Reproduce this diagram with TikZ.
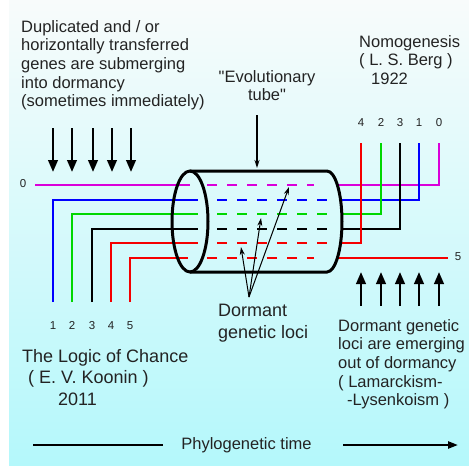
\documentclass[tikz,border=0pt]{standalone}
\usepackage{fontspec}
\setmainfont{Liberation Sans}[Ligatures=TeXOff]
\usetikzlibrary{arrows.meta,positioning}
\definecolor{ink}{RGB}{35,35,35}
\definecolor{gmag}{RGB}{218,0,218}
\definecolor{gblue}{RGB}{0,0,255}
\definecolor{ggreen}{RGB}{0,215,0}
\definecolor{gred}{RGB}{245,0,0}
\definecolor{bgtop}{RGB}{248,251,251}
\definecolor{bgbot}{RGB}{180,248,251}
\newcommand{\txtsize}{\fontsize{16.5}{18.7}\selectfont}
\newcommand{\bigsize}{\fontsize{18}{21.5}\selectfont}
\newcommand{\numsize}{\fontsize{11.5}{13}\selectfont}

\begin{document}
\begin{tikzpicture}[x=1pt,y=1pt,
txt/.style={font=\txtsize,text=ink,align=left,inner sep=0pt,anchor=north west},
big/.style={font=\bigsize,text=ink,align=left,inner sep=0pt,anchor=north west},
num/.style={font=\numsize,text=ink,inner sep=0pt},
gene/.style={line width=2.8pt},
dorm/.style={line width=2.8pt,dash pattern=on 10pt off 10pt},
tubeline/.style={line width=3pt},
fall/.style={line width=2.4pt,-{Triangle[length=12pt,width=9.5pt]}},
pointer/.style={line width=1pt,-{Stealth[length=8pt,width=5pt]}},
timeline/.style={line width=2.2pt}]
\fill[white] (0,0) rectangle (469,-466);
\shade[top color=bgtop,bottom color=bgbot] (9,0) rectangle (469,-466);
\useasboundingbox (0,0) rectangle (469,-466);

\node[txt] (sub) at (21,-20) {Duplicated and / or\\horizontally transferred\\genes are submerging\\into dormancy\\(sometimes immediately)};
\node[txt,align=center,anchor=north] (evo) at (267,-70) {"Evolutionary\\tube"};
\node[txt] (nomo) at (359,-35) {Nomogenesis\\( L. S. Berg )\\\hspace*{12pt}1922};
\node[big] (koonin) at (22,-349) {The Logic of Chance\\\hspace*{6pt}( E. V. Koonin )\\\hspace*{36pt}2011};
\node[big] (loci) at (218,-304) {Dormant\\genetic loci};
\node[txt] (emerge) at (338,-319) {Dormant genetic\\loci are emerging\\out of dormancy\\( Lamarckism-\\\hspace*{9pt}-Lysenkoism )};

\node[num] (l0) at (23,-184) {0};
\node[num] (b1) at (53,-325.5) {1};\node[num] (b2) at (72,-325.5) {2};\node[num] (b3) at (92,-325.5) {3};
\node[num] (b4) at (111,-325.5) {4};\node[num] (b5) at (130,-325.5) {5};
\node[num] (t4) at (361,-122.5) {4};\node[num] (t2) at (381,-122.5) {2};\node[num] (t3) at (400,-122.5) {3};
\node[num] (t1) at (419,-122.5) {1};\node[num] (t0) at (439,-122.5) {0};
\node[num] (r5) at (458,-257) {5};

\draw[gene,gmag] (35,-185) -- (190,-185);
\draw[gene,gblue] (53,-302) |- (198,-200);
\draw[gene,ggreen] (72,-302) |- (198,-214);
\draw[gene,black] (92,-302) |- (198,-229);
\draw[gene,gred] (111,-302) |- (198,-243);
\draw[gene,gred] (130,-302) |- (188,-258);

\draw[gene,gmag] (337,-185) -| (439,-143);
\draw[gene,gblue] (340.6,-200) -| (419,-143);
\draw[gene,ggreen] (341.8,-214) -| (381,-143);
\draw[gene,black] (341.8,-229) -| (400,-143);
\draw[gene,gred] (340.6,-243) -| (361,-143);
\draw[gene,gred] (337.4,-258) -- (448,-258);

\draw[dorm,gmag] (207,-185) -- (314,-185);
\draw[dorm,gblue] (217,-200) -- (327,-200);
\draw[dorm,ggreen] (217,-214) -- (327,-214);
\draw[dorm,black] (217,-229) -- (327,-229);
\draw[dorm,gred] (217,-243) -- (327,-243);
\draw[dorm,gred] (207,-258) -- (314,-258);

\draw[tubeline] (190,-221.5) ellipse [x radius=18pt,y radius=50.5pt];
\draw[tubeline] (190,-171) -- (327,-171) arc[start angle=90,end angle=-90,x radius=15pt,y radius=50.5pt] -- (190,-272);

\draw[fall] (53,-128) -- (53,-172);\draw[fall] (72,-128) -- (72,-172);\draw[fall] (93,-128) -- (93,-172);
\draw[fall] (112,-128) -- (112,-172);\draw[fall] (131,-128) -- (131,-172);
\draw[fall] (361,-306) -- (361,-272);\draw[fall] (381,-306) -- (381,-272);\draw[fall] (400,-306) -- (400,-272);
\draw[fall] (419,-306) -- (419,-272);\draw[fall] (439,-306) -- (439,-272);

\coordinate (tubein) at (257,-115);\coordinate (tubetop) at (257,-168);
\draw[pointer,line width=1.3pt] (tubein) -- (tubetop);
\coordinate (lociroot) at (249,-297);
\coordinate (la) at (241,-247);\coordinate (lb) at (261,-218);\coordinate (lc) at (289,-187);
\draw[pointer] (lociroot) -- (la);\draw[pointer] (lociroot) -- (lb);\draw[pointer] (lociroot) -- (lc);

\node[txt,anchor=base] (time) at (246.5,-449.5) {Phylogenetic time};
\coordinate (ta) at (33,-445);\coordinate (tb) at (163,-445);
\coordinate (tc) at (343,-445);\coordinate (td) at (458,-445);
\draw[timeline] (ta) -- (tb);
\draw[timeline,-{Triangle[length=10pt,width=7pt]}] (tc) -- (td);
\end{tikzpicture}
\end{document}
